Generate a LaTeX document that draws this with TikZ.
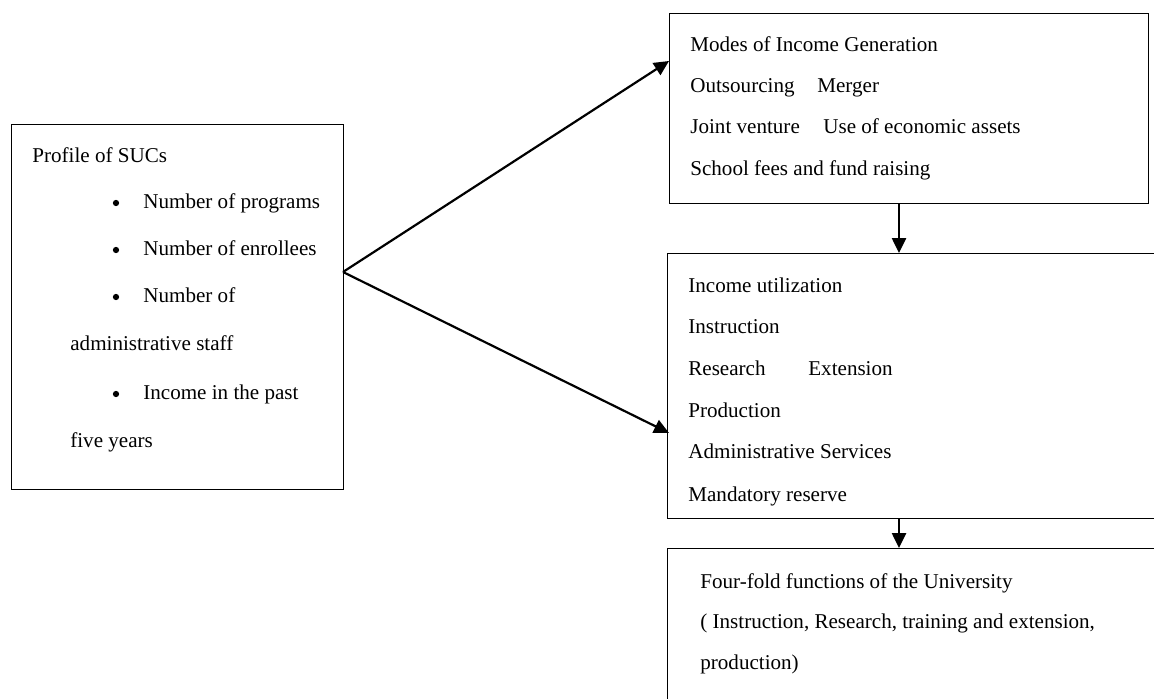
\documentclass[tikz,border=0pt]{standalone}
\usepackage{fontspec}
\setmainfont{Liberation Serif}
\usetikzlibrary{arrows.meta}
\tikzset{
	box/.style={draw, line width=0.75pt, anchor=north west, inner sep=0pt},
	txt/.style={anchor=base west, inner sep=0pt, font=\fontsize{12}{14}\selectfont},
	dot/.style={circle, fill, inner sep=0pt, minimum size=0.125cm},
	arr/.style={line width=1.25pt, -{Triangle[length=8.5pt,width=8pt]}}
}

\begin{document}
\begin{tikzpicture}[x=0.02cm, y=-0.02cm]
		%%%%% START %%%%%
		\useasboundingbox[fill=white] (0, 0) rectangle (1154, 699);
		\clip (0, 0) rectangle (1154, 699);
		
		\node[box, minimum width=6.64cm, minimum height=7.3cm] (profile) at (11, 124) {};
		\node[box, minimum width=9.58cm, minimum height=3.8cm] (modes) at (669, 13) {};
		\node[box, minimum width=10.06cm, minimum height=5.3cm] (use) at (667, 253) {};
		\node[box, minimum width=10.06cm, minimum height=3.44cm] (four) at (667, 548) {};
		
		% profile of SUCs
		\node[txt] (p1) at (32, 163) {Profile of SUCs};
		\node[dot] (b1) at (116, 203) {};
		\node[txt] (p2) at (143, 209) {Number of programs};
		\node[dot] (b2) at (116, 250) {};
		\node[txt] (p3) at (143, 256) {Number of enrollees};
		\node[dot] (b3) at (116, 297) {};
		\node[txt] (p4) at (143, 303) {Number of};
		\node[txt] (p5) at (70, 351) {administrative staff};
		\node[dot] (b4) at (116, 394) {};
		\node[txt] (p6) at (143, 400) {Income in the past};
		\node[txt] (p7) at (70, 448) {five years};
		
		% modes of income generation
		\node[txt] (m1) at (690, 52) {Modes of Income Generation};
		\node[txt] (m2) at (690, 93) {Outsourcing};
		\node[txt] (m3) at (817, 93) {Merger};
		\node[txt] (m4) at (690, 134) {Joint venture};
		\node[txt] (m5) at (823, 134) {Use of economic assets};
		\node[txt] (m6) at (690, 176) {School fees and fund raising};
		
		% income utilization
		\node[txt] (u1) at (688, 293) {Income utilization};
		\node[txt] (u2) at (688, 334) {Instruction};
		\node[txt] (u3) at (688, 376) {Research};
		\node[txt] (u4) at (808, 376) {Extension};
		\node[txt] (u5) at (688, 418) {Production};
		\node[txt] (u6) at (688, 459) {Administrative Services};
		\node[txt] (u7) at (688, 501) {Mandatory reserve};
		
		% four-fold functions
		\node[txt] (f1) at (700, 588) {Four-fold functions of the University};
		\node[txt] (f2) at (700, 628) {( Instruction, Research, training and extension,};
		\node[txt] (f3) at (700, 669) {production)};
		
		\coordinate (fork) at (343, 272);
		\coordinate (tipa) at (669, 61);
		\coordinate (tipb) at (669, 433);
		\coordinate (down) at (899, 0);
		
		\draw[arr] (fork) -- (tipa);
		\draw[arr] (fork) -- (tipb);
		\draw[arr] (modes.south -| down) -- (use.north -| down);
		\draw[arr] (use.south -| down) -- (four.north -| down);
		%%%%% END %%%%%
	\end{tikzpicture}
\end{document}
